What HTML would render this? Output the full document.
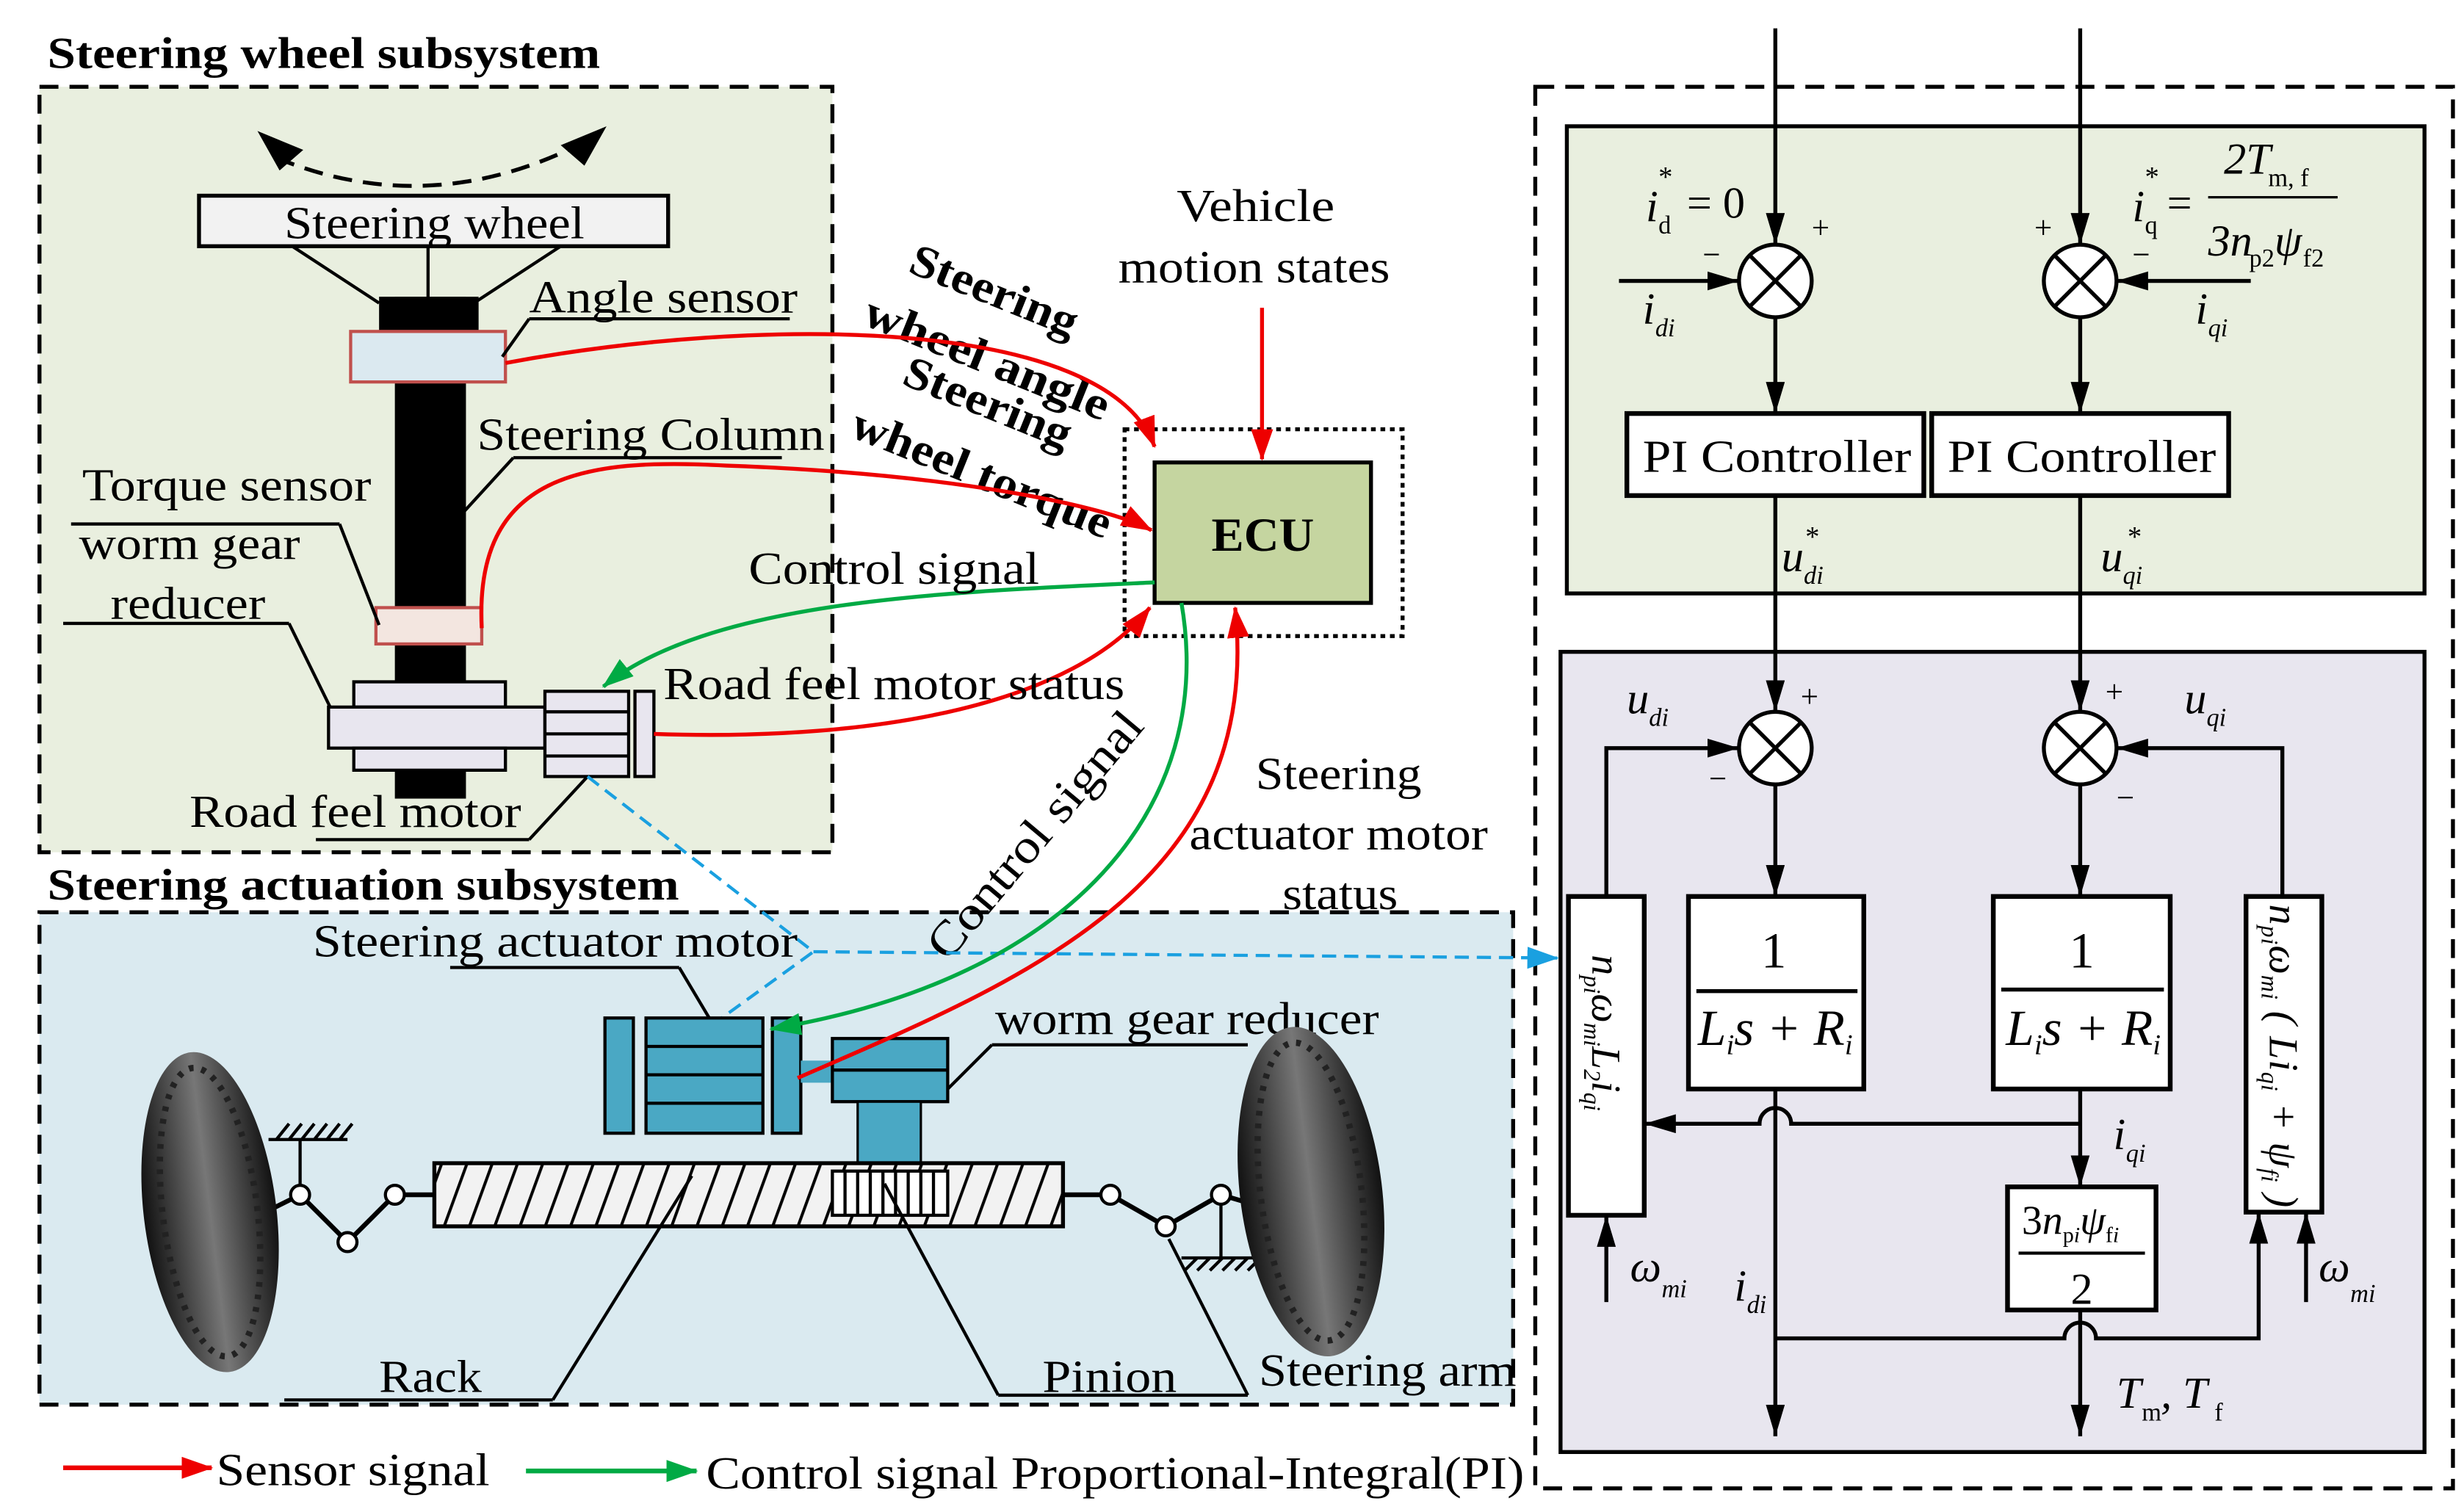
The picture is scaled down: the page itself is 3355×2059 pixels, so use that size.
<!DOCTYPE html>
<html><head><meta charset="utf-8"><style>
html,body{margin:0;padding:0;background:#fff;}
svg{display:block;}
text{font-family:"Liberation Serif",serif;}
.i{font-style:italic;}
</style></head><body>
<svg width="3355" height="2059" viewBox="0 0 1560 958" preserveAspectRatio="none" xmlns="http://www.w3.org/2000/svg">
<defs>
<marker id="ar" viewBox="0 0 20 14" refX="19" refY="7" markerWidth="20" markerHeight="14" orient="auto" markerUnits="userSpaceOnUse"><path d="M0,0L20,7L0,14z" fill="#e00"/></marker>
<marker id="ag" viewBox="0 0 20 14" refX="19" refY="7" markerWidth="20" markerHeight="14" orient="auto" markerUnits="userSpaceOnUse"><path d="M0,0L20,7L0,14z" fill="#0a4"/></marker>
<marker id="ab" viewBox="0 0 20 12" refX="20" refY="6" markerWidth="20" markerHeight="12" orient="auto" markerUnits="userSpaceOnUse"><path d="M0,0L20,6L0,12z" fill="#000"/></marker>
<marker id="ac" viewBox="0 0 20 14" refX="20" refY="7" markerWidth="20" markerHeight="14" orient="auto" markerUnits="userSpaceOnUse"><path d="M0,0L20,7L0,14z" fill="#1aa0e0"/></marker>
<pattern id="hatch" width="16" height="40" patternUnits="userSpaceOnUse" patternTransform="skewX(-20)"><rect width="16" height="40" fill="#f2f2f2"/><line x1="4" y1="0" x2="4" y2="40" stroke="#000" stroke-width="2"/></pattern>
<linearGradient id="tire" x1="0" x2="1" y1="0" y2="0"><stop offset="0" stop-color="#111"/><stop offset="0.5" stop-color="#777"/><stop offset="1" stop-color="#111"/></linearGradient>
</defs>

<rect x="25" y="55" width="502" height="485" fill="#e9efdf" stroke="#000" stroke-width="2.5" stroke-dasharray="12,7"/>
<rect x="25" y="578" width="933" height="312" fill="#daeaf0" stroke="#000" stroke-width="2.5" stroke-dasharray="12,7"/>
<rect x="972" y="55" width="581" height="888" fill="none" stroke="#000" stroke-width="2.5" stroke-dasharray="12,7"/>
<rect x="992" y="80" width="543" height="296" fill="#e9efdf" stroke="#000" stroke-width="2.5"/>
<rect x="988" y="413" width="547" height="507" fill="#e8e6ef" stroke="#000" stroke-width="2.5"/>

<text x="30" y="43" font-size="28" font-weight="bold" textLength="350" lengthAdjust="spacingAndGlyphs">Steering wheel subsystem</text>
<text x="30" y="570" font-size="28" font-weight="bold" textLength="400" lengthAdjust="spacingAndGlyphs">Steering actuation subsystem</text>

<path d="M175,100 Q272,140 370,90" fill="none" stroke="#000" stroke-width="2.5" stroke-dasharray="12,7"/>
<path d="M163,83 L192,95 L177,108z M384,80 L355,92 L370,105z" fill="#000"/>
<rect x="126" y="124" width="297" height="32" fill="#f2f2f2" stroke="#000" stroke-width="2.5"/>
<text x="180" y="151" font-size="29" textLength="190" lengthAdjust="spacingAndGlyphs">Steering wheel</text>
<line x1="185" y1="156" x2="240" y2="192" stroke="#000" stroke-width="2"/>
<line x1="355" y1="156" x2="300" y2="192" stroke="#000" stroke-width="2"/>
<line x1="271" y1="156" x2="271" y2="190" stroke="#000" stroke-width="2"/>
<rect x="240" y="188" width="63" height="22" fill="#000"/>
<rect x="250" y="188" width="45" height="318" fill="#000"/>
<rect x="222" y="210" width="98" height="32" fill="#dbe9f0" stroke="#c0504d" stroke-width="2"/>
<rect x="238" y="385" width="67" height="23" fill="#f3e6e0" stroke="#c0504d" stroke-width="2"/>
<text x="335" y="198" font-size="29" textLength="170" lengthAdjust="spacingAndGlyphs">Angle sensor</text>
<line x1="335" y1="202" x2="500" y2="202" stroke="#000" stroke-width="2"/>
<line x1="335" y1="202" x2="318" y2="226" stroke="#000" stroke-width="2"/>
<text x="302" y="285" font-size="29" textLength="220" lengthAdjust="spacingAndGlyphs">Steering Column</text>
<line x1="325" y1="290" x2="495" y2="290" stroke="#000" stroke-width="2"/>
<line x1="325" y1="290" x2="293" y2="325" stroke="#000" stroke-width="2"/>
<text x="52" y="317" font-size="29" textLength="183" lengthAdjust="spacingAndGlyphs">Torque sensor</text>
<text x="50" y="354" font-size="29" textLength="140" lengthAdjust="spacingAndGlyphs">worm gear</text>
<text x="70" y="392" font-size="29" textLength="98" lengthAdjust="spacingAndGlyphs">reducer</text>
<line x1="45" y1="332" x2="215" y2="332" stroke="#000" stroke-width="2"/>
<line x1="215" y1="332" x2="240" y2="396" stroke="#000" stroke-width="2"/>
<line x1="40" y1="395" x2="183" y2="395" stroke="#000" stroke-width="2"/>
<line x1="183" y1="395" x2="210" y2="450" stroke="#000" stroke-width="2"/>
<rect x="224" y="432" width="96" height="16" fill="#e8e6ef" stroke="#000" stroke-width="2"/>
<rect x="208" y="448" width="137" height="26" fill="#e8e6ef" stroke="#000" stroke-width="2"/>
<rect x="224" y="474" width="96" height="14" fill="#e8e6ef" stroke="#000" stroke-width="2"/>
<rect x="345" y="438" width="53" height="54" fill="#e8e6ef" stroke="#000" stroke-width="2"/>
<line x1="345" y1="451" x2="398" y2="451" stroke="#000" stroke-width="2"/>
<line x1="345" y1="465" x2="398" y2="465" stroke="#000" stroke-width="2"/>
<line x1="345" y1="479" x2="398" y2="479" stroke="#000" stroke-width="2"/>
<rect x="402" y="438" width="12" height="54" fill="#e8e6ef" stroke="#000" stroke-width="2"/>
<text x="120" y="524" font-size="29" textLength="210" lengthAdjust="spacingAndGlyphs">Road feel motor</text>
<line x1="200" y1="532" x2="335" y2="532" stroke="#000" stroke-width="2"/>
<line x1="335" y1="532" x2="372" y2="492" stroke="#000" stroke-width="2"/>

<rect x="712" y="272" width="176" height="131" fill="none" stroke="#000" stroke-width="2.5" stroke-dasharray="3,3"/>
<rect x="731" y="293" width="137" height="89" fill="#c5d5a0" stroke="#000" stroke-width="2.5"/>
<text x="767" y="349" font-size="30" font-weight="bold" textLength="65" lengthAdjust="spacingAndGlyphs">ECU</text>
<text x="745" y="140" font-size="29" textLength="100" lengthAdjust="spacingAndGlyphs">Vehicle</text>
<text x="708" y="179" font-size="29" textLength="172" lengthAdjust="spacingAndGlyphs">motion states</text>
<line x1="799" y1="195" x2="799" y2="291" stroke="#e00" stroke-width="2.5" marker-end="url(#ar)"/>

<text font-size="29" font-weight="bold" transform="translate(574,172) rotate(22)" textLength="112" lengthAdjust="spacingAndGlyphs">Steering</text>
<text font-size="29" font-weight="bold" transform="translate(545,205) rotate(22)" textLength="165" lengthAdjust="spacingAndGlyphs">wheel angle</text>
<text font-size="29" font-weight="bold" transform="translate(570,243) rotate(22)" textLength="112" lengthAdjust="spacingAndGlyphs">Steering</text>
<text font-size="29" font-weight="bold" transform="translate(537,276) rotate(22)" textLength="175" lengthAdjust="spacingAndGlyphs">wheel torque</text>

<path d="M320,230 C480,200 700,200 731,283" fill="none" stroke="#e00" stroke-width="2.5" marker-end="url(#ar)"/>
<path d="M305,398 C300,300 370,290 460,295 C600,300 700,320 729,336" fill="none" stroke="#e00" stroke-width="2.5" marker-end="url(#ar)"/>
<path d="M731,369 C600,375 450,380 382,435" fill="none" stroke="#0a4" stroke-width="2.5" marker-end="url(#ag)"/>
<text x="474" y="370" font-size="29" textLength="184" lengthAdjust="spacingAndGlyphs">Control signal</text>
<path d="M414,465 C560,470 680,445 728,385" fill="none" stroke="#e00" stroke-width="2.5" marker-end="url(#ar)"/>
<text x="420" y="443" font-size="29" textLength="292" lengthAdjust="spacingAndGlyphs">Road feel motor status</text>
<text font-size="30" transform="translate(600,610) rotate(-50)" textLength="195" lengthAdjust="spacingAndGlyphs">Control signal</text>
<text x="795" y="500" font-size="29" textLength="105" lengthAdjust="spacingAndGlyphs">Steering</text>
<text x="753" y="538" font-size="29" textLength="189" lengthAdjust="spacingAndGlyphs">actuator motor</text>
<text x="812" y="576" font-size="29" textLength="73" lengthAdjust="spacingAndGlyphs">status</text>

<path d="M372,492 L515,603 L450,650" fill="none" stroke="#1aa0e0" stroke-width="2" stroke-dasharray="9,5"/>
<path d="M515,603 L987,607" fill="none" stroke="#1aa0e0" stroke-width="2" stroke-dasharray="9,5" marker-end="url(#ac)"/>

<text x="198" y="606" font-size="29" textLength="307" lengthAdjust="spacingAndGlyphs">Steering actuator motor</text>
<line x1="285" y1="613" x2="430" y2="613" stroke="#000" stroke-width="2"/>
<line x1="430" y1="613" x2="452" y2="650" stroke="#000" stroke-width="2"/>
<rect x="383" y="645" width="18" height="73" fill="#4aa8c4" stroke="#000" stroke-width="2"/>
<rect x="409" y="645" width="74" height="73" fill="#4aa8c4" stroke="#000" stroke-width="2"/>
<line x1="409" y1="663" x2="483" y2="663" stroke="#000" stroke-width="2"/>
<line x1="409" y1="681" x2="483" y2="681" stroke="#000" stroke-width="2"/>
<line x1="409" y1="699" x2="483" y2="699" stroke="#000" stroke-width="2"/>
<rect x="489" y="645" width="18" height="73" fill="#4aa8c4" stroke="#000" stroke-width="2"/>
<rect x="507" y="672" width="22" height="14" fill="#4aa8c4"/>
<rect x="527" y="658" width="73" height="40" fill="#4aa8c4" stroke="#000" stroke-width="2"/>
<line x1="527" y1="678" x2="600" y2="678" stroke="#000" stroke-width="2"/>
<rect x="543" y="698" width="40" height="44" fill="#4aa8c4" stroke="#000" stroke-width="1.5"/>
<text x="630" y="655" font-size="29" textLength="243" lengthAdjust="spacingAndGlyphs">worm gear reducer</text>
<line x1="628" y1="662" x2="790" y2="662" stroke="#000" stroke-width="2"/>
<line x1="628" y1="662" x2="600" y2="690" stroke="#000" stroke-width="2"/>
<rect x="275" y="737" width="398" height="40" fill="url(#hatch)" stroke="#000" stroke-width="2.5"/>
<rect x="527" y="742" width="73" height="28" fill="#fff" stroke="#000" stroke-width="2"/>
<path d="M535,742v28M543,742v28M551,742v28M559,742v28M567,742v28M575,742v28M583,742v28M591,742v28" stroke="#000" stroke-width="2"/>

<!-- signals into actuator (on top) -->
<path d="M748,382 C770,510 680,620 488,652" fill="none" stroke="#0a4" stroke-width="2.5" marker-end="url(#ag)"/>
<path d="M505,683 C650,620 800,560 782,385" fill="none" stroke="#e00" stroke-width="2.5" marker-end="url(#ar)"/>

<path d="M275,757 L250,757 L220,787 L190,757 L160,772" fill="none" stroke="#000" stroke-width="3"/>
<line x1="190" y1="757" x2="190" y2="722" stroke="#000" stroke-width="2"/>
<path d="M170,722h50M175,722l8,-10M183,722l8,-10M191,722l8,-10M199,722l8,-10M207,722l8,-10M215,722l8,-10" stroke="#000" stroke-width="2"/>
<circle cx="250" cy="757" r="6" fill="#fff" stroke="#000" stroke-width="2"/>
<circle cx="220" cy="787" r="6" fill="#fff" stroke="#000" stroke-width="2"/>
<circle cx="190" cy="757" r="6" fill="#fff" stroke="#000" stroke-width="2"/>
<path d="M673,757 L703,757 L738,777 L773,757 L800,765" fill="none" stroke="#000" stroke-width="3"/>
<line x1="773" y1="757" x2="773" y2="797" stroke="#000" stroke-width="2"/>
<path d="M748,797h50M750,805l8,-8M758,805l8,-8M766,805l8,-8M774,805l8,-8M782,805l8,-8M790,805l8,-8" stroke="#000" stroke-width="2"/>
<circle cx="703" cy="757" r="6" fill="#fff" stroke="#000" stroke-width="2"/>
<circle cx="738" cy="777" r="6" fill="#fff" stroke="#000" stroke-width="2"/>
<circle cx="773" cy="757" r="6" fill="#fff" stroke="#000" stroke-width="2"/>
<g transform="rotate(-7 133 768)"><ellipse cx="133" cy="768" rx="42" ry="102" fill="url(#tire)"/><ellipse cx="133" cy="768" rx="30" ry="92" fill="none" stroke="#222" stroke-width="4" stroke-dasharray="3,5"/></g>
<g transform="rotate(-7 830 755)"><ellipse cx="830" cy="755" rx="45" ry="105" fill="url(#tire)"/><ellipse cx="830" cy="755" rx="32" ry="95" fill="none" stroke="#222" stroke-width="4" stroke-dasharray="3,5"/></g>
<text x="240" y="882" font-size="29" textLength="65" lengthAdjust="spacingAndGlyphs">Rack</text>
<line x1="180" y1="887" x2="350" y2="887" stroke="#000" stroke-width="2"/>
<line x1="350" y1="887" x2="438" y2="745" stroke="#000" stroke-width="2"/>
<text x="660" y="882" font-size="29" textLength="85" lengthAdjust="spacingAndGlyphs">Pinion</text>
<line x1="632" y1="884" x2="790" y2="884" stroke="#000" stroke-width="2"/>
<line x1="632" y1="884" x2="560" y2="750" stroke="#000" stroke-width="2"/>
<text x="797" y="878" font-size="29" textLength="163" lengthAdjust="spacingAndGlyphs">Steering arm</text>
<line x1="790" y1="884" x2="740" y2="785" stroke="#000" stroke-width="2"/>

<line x1="40" y1="930" x2="134" y2="930" stroke="#e00" stroke-width="3" marker-end="url(#ar)"/>
<text x="137" y="941" font-size="29" textLength="173" lengthAdjust="spacingAndGlyphs">Sensor signal</text>
<line x1="333" y1="932" x2="441" y2="932" stroke="#0a4" stroke-width="3" marker-end="url(#ag)"/>
<text x="447" y="943" font-size="29" textLength="518" lengthAdjust="spacingAndGlyphs">Control signal Proportional-Integral(PI)</text>

<g stroke="#000" stroke-width="2.5" fill="none">
<line x1="1124" y1="18" x2="1124" y2="155" marker-end="url(#ab)"/>
<line x1="1317" y1="18" x2="1317" y2="155" marker-end="url(#ab)"/>
<line x1="1025" y1="178" x2="1101" y2="178" marker-end="url(#ab)"/>
<line x1="1425" y1="178" x2="1340" y2="178" marker-end="url(#ab)"/>
<line x1="1124" y1="201" x2="1124" y2="262" marker-end="url(#ab)"/>
<line x1="1317" y1="201" x2="1317" y2="262" marker-end="url(#ab)"/>
<line x1="1124" y1="314" x2="1124" y2="451" marker-end="url(#ab)"/>
<line x1="1317" y1="314" x2="1317" y2="451" marker-end="url(#ab)"/>
<line x1="1124" y1="497" x2="1124" y2="568" marker-end="url(#ab)"/>
<line x1="1317" y1="497" x2="1317" y2="568" marker-end="url(#ab)"/>
<path d="M1017,568 V474 H1101" marker-end="url(#ab)"/>
<path d="M1445,568 V474 H1340" marker-end="url(#ab)"/>
<path d="M1124,690 V910" marker-end="url(#ab)"/>
<path d="M1317,690 V752" marker-end="url(#ab)"/>
<path d="M1317,712 H1134 A10,10 0 0 0 1114,712 H1041" marker-end="url(#ab)"/>
<path d="M1317,830 V910" marker-end="url(#ab)"/>
<path d="M1124,848 H1307 A10,10 0 0 1 1327,848 H1430 V768" marker-end="url(#ab)"/>
<line x1="1017" y1="825" x2="1017" y2="770" marker-end="url(#ab)"/>
<line x1="1460" y1="825" x2="1460" y2="768" marker-end="url(#ab)"/>
</g>
<g stroke="#000" stroke-width="2.5" fill="#fff">
<circle cx="1124" cy="178" r="23"/><circle cx="1317" cy="178" r="23"/>
<circle cx="1124" cy="474" r="23"/><circle cx="1317" cy="474" r="23"/>
</g>
<g stroke="#000" stroke-width="2.5">
<path d="M1108,162l32,32M1140,162l-32,32M1301,162l32,32M1333,162l-32,32M1108,458l32,32M1140,458l-32,32M1301,458l32,32M1333,458l-32,32"/>
</g>
<g stroke="#000" stroke-width="3" fill="#fff">
<rect x="1030" y="262" width="188" height="52"/>
<rect x="1223" y="262" width="188" height="52"/>
<rect x="1069" y="568" width="111" height="122"/>
<rect x="1262" y="568" width="112" height="122"/>
<rect x="993" y="568" width="48" height="202"/>
<rect x="1422" y="568" width="48" height="200"/>
<rect x="1271" y="752" width="94" height="78"/>
</g>
<line x1="1074" y1="628" x2="1176" y2="628" stroke="#000" stroke-width="2.5"/>
<line x1="1267" y1="627" x2="1370" y2="627" stroke="#000" stroke-width="2.5"/>
<line x1="1278" y1="794" x2="1358" y2="794" stroke="#000" stroke-width="2"/>
<text x="1040" y="299" font-size="29" textLength="170" lengthAdjust="spacingAndGlyphs">PI Controller</text>
<text x="1233" y="299" font-size="29" textLength="170" lengthAdjust="spacingAndGlyphs">PI Controller</text>
<text x="1123" y="613" font-size="32" text-anchor="middle">1</text>
<text x="1318" y="613" font-size="32" text-anchor="middle">1</text>
<text x="1075" y="662" font-size="32" class="i" textLength="98" lengthAdjust="spacingAndGlyphs">L<tspan font-size="18" dy="6">i</tspan><tspan dy="-6">s + R</tspan><tspan font-size="18" dy="6">i</tspan></text>
<text x="1270" y="662" font-size="32" class="i" textLength="98" lengthAdjust="spacingAndGlyphs">L<tspan font-size="18" dy="6">i</tspan><tspan dy="-6">s + R</tspan><tspan font-size="18" dy="6">i</tspan></text>
<text x="1280" y="782" font-size="26"><tspan>3</tspan><tspan class="i">n</tspan><tspan font-size="14" dy="5">p<tspan class="i">i</tspan></tspan><tspan class="i" dy="-5">ψ</tspan><tspan font-size="14" dy="5">f<tspan class="i">i</tspan></tspan></text>
<text x="1318" y="826" font-size="28" text-anchor="middle">2</text>
<text font-size="26" class="i" transform="translate(1008,605) rotate(90)">n<tspan font-size="15" dy="5">p<tspan>i</tspan></tspan><tspan dy="-5">ω</tspan><tspan font-size="15" dy="5">m<tspan>i</tspan></tspan><tspan dy="-5">L</tspan><tspan font-size="15" dy="5">2</tspan><tspan dy="-5">i</tspan><tspan font-size="15" dy="5">q<tspan>i</tspan></tspan></text>
<text font-size="26" class="i" transform="translate(1437,573) rotate(90)" textLength="192" lengthAdjust="spacing">n<tspan font-size="15" dy="5">p<tspan>i</tspan></tspan><tspan dy="-5">ω</tspan><tspan font-size="15" dy="5">m<tspan>i</tspan></tspan><tspan dy="-5"> ( L</tspan><tspan>i</tspan><tspan font-size="15" dy="5">q<tspan>i</tspan></tspan><tspan dy="-5"> + ψ</tspan><tspan font-size="15" dy="5">f<tspan>i</tspan></tspan><tspan dy="-5"> )</tspan></text>
<g font-size="28" class="i">
<text x="1042" y="140">i</text><text x="1050" y="148" font-size="16" font-style="normal">d</text><text x="1050" y="118" font-size="18" font-style="normal">*</text><text x="1068" y="138" font-style="normal">= 0</text>
<text x="1350" y="140">i</text><text x="1358" y="148" font-size="16" font-style="normal">q</text><text x="1358" y="118" font-size="18" font-style="normal">*</text><text x="1372" y="138" font-style="normal">=</text>
<text x="1408" y="110">2T</text><text x="1436" y="118" font-size="16" font-style="normal">m, f</text>
<line x1="1398" y1="125" x2="1480" y2="125" stroke="#000" stroke-width="1.5"/>
<text x="1398" y="162">3n</text><text x="1424" y="169" font-size="16" font-style="normal">p2</text><text x="1440" y="162">ψ</text><text x="1458" y="169" font-size="16" font-style="normal">f2</text>
<text x="1040" y="205">i</text><text x="1048" y="213" font-size="16">di</text>
<text x="1390" y="205">i</text><text x="1398" y="213" font-size="16">qi</text>
<text x="1128" y="362">u</text><text x="1142" y="370" font-size="16">di</text><text x="1143" y="346" font-size="18" font-style="normal">*</text>
<text x="1330" y="362">u</text><text x="1344" y="370" font-size="16">qi</text><text x="1347" y="346" font-size="18" font-style="normal">*</text>
<text x="1030" y="452">u</text><text x="1044" y="460" font-size="16">di</text>
<text x="1383" y="452">u</text><text x="1397" y="460" font-size="16">qi</text>
<text x="1338" y="728">i</text><text x="1346" y="736" font-size="16">qi</text>
<text x="1098" y="824">i</text><text x="1106" y="832" font-size="16">di</text>
<text x="1032" y="812">ω</text><text x="1052" y="822" font-size="16">m<tspan>i</tspan></text>
<text x="1468" y="812">ω</text><text x="1488" y="825" font-size="16">m<tspan>i</tspan></text>
<text x="1340" y="892">T</text><text x="1356" y="900" font-size="16" font-style="normal">m</text><text x="1368" y="892">, T</text><text x="1402" y="900" font-size="16" font-style="normal">f</text>
</g>
<g font-size="20">
<text x="1147" y="151">+</text><text x="1078" y="168">−</text>
<text x="1288" y="151">+</text><text x="1350" y="168">−</text>
<text x="1140" y="448">+</text><text x="1082" y="500">−</text>
<text x="1333" y="445">+</text><text x="1340" y="512">−</text>
</g>
</svg>
</body></html>
